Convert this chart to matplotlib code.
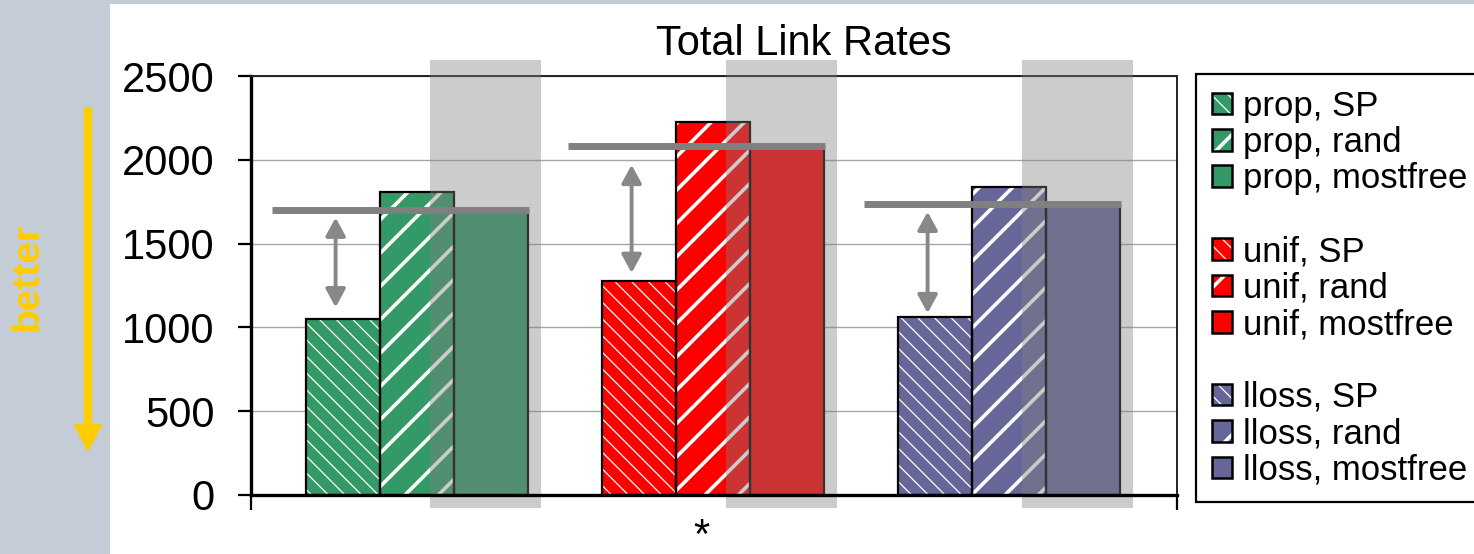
import matplotlib
matplotlib.use('Agg')
import matplotlib.pyplot as plt
from matplotlib.patches import Patch, Rectangle

plt.rcParams['font.family'] = ['Liberation Sans', 'DejaVu Sans']
plt.rcParams['hatch.linewidth'] = 0.9

# Total link rates per link-cost scheme and path selection
schemes = ['prop', 'unif', 'lloss']
selections = ['SP', 'rand', 'mostfree']
sp_rates = [1050, 1275, 1065]
rand_rates = [1810, 2225, 1840]
mostfree_rates = [1700, 2085, 1735]
category = '*'

# ends of the double arrows (SP -> mostfree gap)
arrow_low = [1120, 1325, 1085]
arrow_high = [1655, 1970, 1690]

colors = ['#339966', '#ff0000', '#666699']
hatches = ['\\\\', '/', None]
hatch_widths = [0.9, 2.6, 0.9]


def set_hatch_width(patch, lw):
    if hasattr(patch, 'set_hatch_linewidth'):
        patch.set_hatch_linewidth(lw)
    # older versions read the width from rcParams at draw time
    draw = patch.draw

    def draw_wide(renderer):
        with plt.rc_context({'hatch.linewidth': lw}):
            draw(renderer)
    patch.draw = draw_wide


fig = plt.figure(figsize=(14.74, 5.54), dpi=100)
fig.patch.set_facecolor('white')
fig.add_artist(Rectangle((0, 0), 110 / 1474, 1, transform=fig.transFigure,
                         color='#c4ccd6', lw=0, zorder=0))
fig.add_artist(Rectangle((0, 1 - 4 / 554), 1, 4 / 554, transform=fig.transFigure,
                         color='#c4ccd6', lw=0, zorder=0))

ax = fig.add_axes([251 / 1474, 1 - 495 / 554, 926 / 1474, 419 / 554])
ax.set_facecolor('none')

width = 0.25
series = [sp_rates, rand_rates, mostfree_rates]
handles, labels = [], []
for i, scheme in enumerate(schemes):
    for j, sel in enumerate(selections):
        x = i + (j - 1) * width
        with plt.rc_context({'hatch.linewidth': hatch_widths[j]}):
            fill = ax.bar(x, series[j][i], width, color=colors[i], edgecolor='white',
                          hatch=hatches[j], linewidth=0, zorder=2)
            hp = Patch(facecolor=colors[i], edgecolor='white', hatch=hatches[j], lw=0)
        for p in fill:
            set_hatch_width(p, hatch_widths[j])
        ax.bar(x, series[j][i], width, fill=False, edgecolor='black',
               linewidth=1.6, zorder=3)
        op = Patch(facecolor='none', edgecolor='black', lw=1.8)
        handles.append((hp, op))
        labels.append(f'{scheme}, {sel}')
    if i < len(schemes) - 1:
        handles.append(Patch(facecolor='none', edgecolor='none'))
        labels.append(' ')

    # grey band over the rand/mostfree pair
    ax.add_patch(Rectangle((i + 0.045, -78), 0.375, 2673, color='#808080',
                           alpha=0.4, lw=0, clip_on=False, zorder=4))
    ax.hlines(mostfree_rates[i], i - 0.49, i + 0.38, color='#808080', lw=5,
              zorder=5, capstyle='butt')
    ax.annotate('', xy=(i - 0.275, arrow_high[i]), xytext=(i - 0.275, arrow_low[i]),
                arrowprops=dict(arrowstyle='<|-|>,head_length=0.55,head_width=0.3',
                                mutation_scale=20, color='#888888', lw=2.8,
                                shrinkA=0, shrinkB=0), zorder=5)

ax.set_xlim(-0.5608, 2.5676)
ax.set_ylim(0, 2500)
ax.set_yticks(range(0, 2501, 500))
ax.yaxis.grid(True, color='#a6a6a6', lw=1.0, zorder=0)
ax.set_axisbelow(True)
ax.tick_params(axis='y', labelsize=30, length=9.4, width=1.6, pad=17, direction='out')

ax.set_xticks([0.96], [category])
ax.set_xticks([-0.5608, 2.5676], minor=True)
ax.tick_params(axis='x', which='major', length=0, labelsize=30, pad=16)
ax.tick_params(axis='x', which='minor', length=11, width=1.6, direction='out')

for side in ['left', 'bottom']:
    ax.spines[side].set_linewidth(2.4)
    ax.spines[side].set_color('black')
for side in ['top', 'right']:
    ax.spines[side].set_linewidth(1.4)
    ax.spines[side].set_color('#222222')
ax.spines['bottom'].set_zorder(6)

fig.text(804 / 1474, 1 - 55 / 554, 'Total Link Rates', ha='center', va='baseline',
         fontsize=30)

fig.text(27 / 1474, 1 - 277 / 554, 'better', rotation=90, ha='center', va='center',
         fontsize=28, fontweight='bold', color='#ffcc00')
ax.annotate('', xy=(88 / 1474, 1 - 452 / 554), xytext=(88 / 1474, 1 - 107 / 554),
            xycoords='figure fraction', textcoords='figure fraction',
            arrowprops=dict(arrowstyle='simple,head_length=1.0,head_width=1.05,tail_width=0.3',
                            mutation_scale=20, color='#ffcc00', lw=0,
                            shrinkA=0, shrinkB=0))

leg = fig.legend(handles, labels, loc='upper left',
                 bbox_to_anchor=(1196 / 1474, 1 - 74 / 554), borderaxespad=0,
                 fontsize=25, handlelength=0.58, handleheight=0.58,
                 handletextpad=0.32, labelspacing=0.098, borderpad=0.45,
                 fancybox=False, framealpha=1, edgecolor='black')
leg.get_frame().set_linewidth(1.6)
for h in leg.legend_handles:
    if h.get_hatch() == '/':
        set_hatch_width(h, hatch_widths[1])

fig.savefig('out.png', dpi=100, facecolor=fig.get_facecolor())
